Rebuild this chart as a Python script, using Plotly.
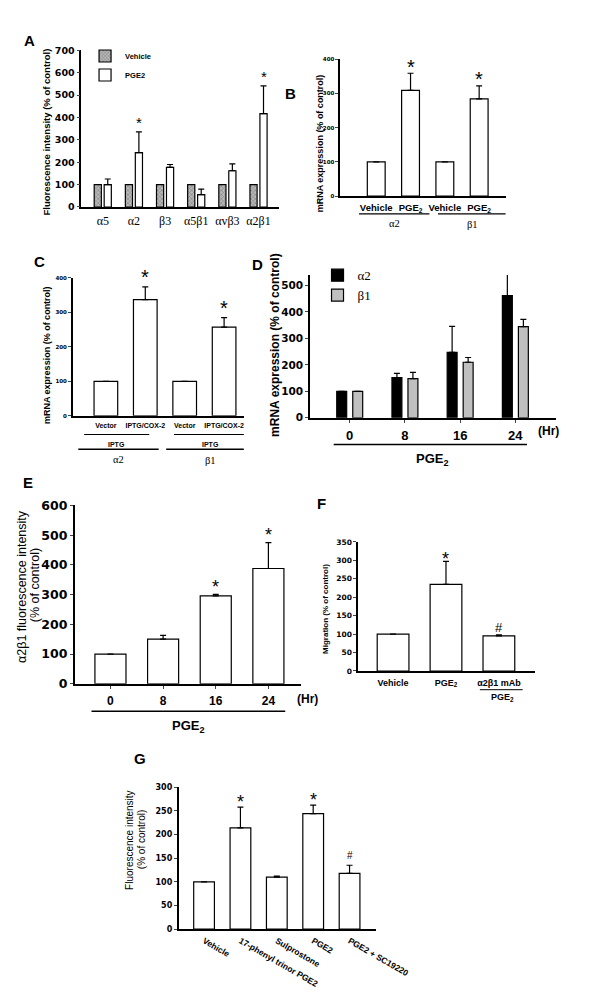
import plotly.graph_objects as go

W, H = 600, 1007

# ---------------- data ----------------
# Panel A
a_cats = ["α5", "α2", "β3", "α5β1", "αvβ3", "α2β1"]
a_vehicle = [100, 100, 100, 100, 100, 100]
a_pge2 = [100, 243, 177, 55, 162, 417]
a_pge2_err = [25, 93, 13, 25, 31, 124]
a_sig = ["", "*", "", "", "", "*"]

# Panel B
b_labels = ["Vehicle", "PGE<sub>2</sub>", "Vehicle", "PGE<sub>2</sub>"]
b_groups = ["α2", "β1"]
b_vals = [100, 309, 100, 284]
b_err = [0, 50, 0, 38]
b_sig = ["", "*", "", "*"]

# Panel C
c_labels = ["Vector", "IPTG/COX-2", "Vector", "IPTG/COX-2"]
c_groups = ["α2", "β1"]
c_vals = [100, 337, 100, 257]
c_err = [0, 37, 0, 28]
c_sig = ["", "*", "", "*"]

# Panel D
d_hours = ["0", "8", "16", "24"]
d_a2 = [100, 152, 247, 462]
d_a2_err = [0, 16, 99, 89]
d_b1 = [100, 148, 210, 345]
d_b1_err = [0, 24, 18, 27]

# Panel E
e_hours = ["0", "8", "16", "24"]
e_vals = [100, 150, 296, 388]
e_err = [0, 13, 5, 87]
e_sig = ["", "", "*", "*"]

# Panel F
f_labels = ["Vehicle", "PGE<sub>2</sub>", "α2β1 mAb"]
f_vals = [100, 235, 95]
f_err = [0, 62, 3]
f_sig = ["", "*", "#"]

# Panel G
g_labels = ["Vehicle", "17-phenyl trinor PGE2", "Sulprostone", "PGE2", "PGE2 + SC19220"]
g_vals = [100, 214, 110, 244, 118]
g_err = [0, 44, 2, 18, 17]
g_sig = ["", "*", "", "*", "#"]

# ---------------- layout helpers ----------------
SANS = "Liberation Sans"
NUM = "DejaVu Sans"
SERIF = "Liberation Serif"


def xd(px):
    return px / W


def yd(py):
    return 1 - py / H


panels = {
    "A": dict(n=1, xpx=(86, 295), ypx=(43, 202), yr=(0, 700), xr=(-0.69, 5.65), dtick=100, tf=9.5),
    "B": dict(n=2, xpx=(360, 535), ypx=(52, 191), yr=(0, 400), xr=(-1.05, 3.77), dtick=100, tf=5.5),
    "C": dict(n=3, xpx=(77, 258), ypx=(274, 414), yr=(0, 400), xr=(-0.84, 3.5), dtick=100, tf=5.5),
    "D": dict(n=4, xpx=(328, 588), ypx=(271, 416), yr=(0, 540), xr=(-0.72, 3.73), dtick=100, tf=10.5),
    "E": dict(n=5, xpx=(79, 318), ypx=(505, 686), yr=(0, 600), xr=(-0.68, 3.61), dtick=100, tf=12.5),
    "F": dict(n=6, xpx=(379, 566), ypx=(542, 673), yr=(0, 350), xr=(-0.66, 2.68), dtick=50, tf=7.5),
    "G": dict(n=7, xpx=(189, 398), ypx=(791, 935), yr=(0, 300), xr=(-0.7, 4.73), dtick=50, tf=8),
}


def ax(n, kind):
    return f"{kind}{'' if n == 1 else n}"


def axkey(n, kind):
    return f"{kind}axis{'' if n == 1 else n}"


fig = go.Figure()
layout = dict(
    width=W, height=H, margin=dict(l=0, r=0, t=0, b=0),
    paper_bgcolor="white", plot_bgcolor="white",
    barmode="overlay", showlegend=True,
)

xaxis_extra = {
    "A": dict(tickvals=list(range(6)), ticktext=a_cats, tickfont=dict(family=SERIF, size=12, color="black"), ticks=""),
    "B": dict(tickvals=list(range(4)), ticktext=b_labels, tickfont=dict(family=SANS, size=9.5, color="black", weight="bold"), ticks=""),
    "C": dict(tickvals=list(range(4)), ticktext=c_labels, tickfont=dict(family=SANS, size=7, color="black", weight="bold"), ticks=""),
    "D": dict(tickvals=list(range(4)), ticktext=d_hours, tickfont=dict(family=SANS, size=13, color="black", weight="bold"), ticks="outside", ticklen=3),
    "E": dict(tickvals=list(range(4)), ticktext=e_hours, tickfont=dict(family=SANS, size=12, color="black", weight="bold"), ticks="outside", ticklen=3),
    "F": dict(tickvals=list(range(3)), ticktext=f_labels, tickfont=dict(family=SANS, size=9, color="black", weight="bold"), ticks=""),
    "G": dict(tickvals=list(range(5)), ticktext=g_labels, tickfont=dict(family=SANS, size=8.5, color="black", weight="bold"), ticks="", tickangle=30),
}

for key, p in panels.items():
    n = p["n"]
    layout[axkey(n, "x")] = dict(
        domain=[xd(p["xpx"][0]), xd(p["xpx"][1])], range=list(p["xr"]),
        anchor=ax(n, "y"), showline=True, linecolor="black", linewidth=1.5,
        showgrid=False, zeroline=False, fixedrange=True, ticklabelstandoff=2,
        **xaxis_extra[key],
    )
    layout[axkey(n, "y")] = dict(
        domain=[yd(p["ypx"][1]), yd(p["ypx"][0])], range=list(p["yr"]),
        anchor=ax(n, "x"), showline=True, linecolor="black", linewidth=1.5,
        showgrid=False, zeroline=False, ticks="outside", ticklen=3, tickwidth=1.2,
        dtick=p["dtick"], tick0=0, fixedrange=True,
        tickfont=dict(family=NUM, size=p["tf"], color="black", weight="bold"),
    )


def err(vals):
    return dict(type="data", array=vals, arrayminus=[0] * len(vals), symmetric=False,
                color="black", thickness=1.2, width=3, visible=True)


LINE = dict(color="black", width=1.2)

# Panel A
fig.add_bar(x=[i - 0.16 for i in range(len(a_cats))], y=a_vehicle, width=0.23, xaxis="x", yaxis="y",
            name="Vehicle", legend="legend",
            marker=dict(color="#b0b0b0", line=LINE,
                        pattern=dict(shape="x", fgcolor="#555555", bgcolor="#b8b8b8", size=3, solidity=0.4)))
fig.add_bar(x=[i + 0.16 for i in range(len(a_cats))], y=a_pge2, width=0.23, xaxis="x", yaxis="y",
            name="PGE2", legend="legend", error_y=err(a_pge2_err),
            marker=dict(color="white", line=LINE))

# Panel B
fig.add_bar(x=list(range(4)), y=b_vals, width=0.52, xaxis="x2", yaxis="y2", showlegend=False,
            error_y=err(b_err), marker=dict(color="white", line=LINE))
# Panel C
fig.add_bar(x=list(range(4)), y=c_vals, width=0.6, xaxis="x3", yaxis="y3", showlegend=False,
            error_y=err(c_err), marker=dict(color="white", line=LINE))
# Panel D
fig.add_bar(x=[i - 0.145 for i in range(4)], y=d_a2, width=0.18, xaxis="x4", yaxis="y4",
            name="α2", legend="legend2", error_y=err(d_a2_err),
            marker=dict(color="black", line=LINE))
fig.add_bar(x=[i + 0.145 for i in range(4)], y=d_b1, width=0.18, xaxis="x4", yaxis="y4",
            name="β1", legend="legend2", error_y=err(d_b1_err),
            marker=dict(color="#c0c0c0", line=LINE))
# Panel E
fig.add_bar(x=list(range(4)), y=e_vals, width=0.59, xaxis="x5", yaxis="y5", showlegend=False,
            error_y=err(e_err), marker=dict(color="white", line=LINE))
# Panel F
fig.add_bar(x=list(range(3)), y=f_vals, width=0.6, xaxis="x6", yaxis="y6", showlegend=False,
            error_y=err(f_err), marker=dict(color="white", line=LINE))
# Panel G
fig.add_bar(x=list(range(5)), y=g_vals, width=0.57, xaxis="x7", yaxis="y7", showlegend=False,
            error_y=err(g_err), marker=dict(color="white", line=LINE))

layout["legend"] = dict(x=xd(90), y=yd(34), xanchor="left", yanchor="top", bgcolor="rgba(0,0,0,0)",
                        font=dict(family=SANS, size=7.5, color="black", weight="bold"),
                        tracegroupgap=0, itemwidth=30)
layout["legend2"] = dict(x=xd(336), y=yd(256), xanchor="left", yanchor="top", bgcolor="rgba(0,0,0,0)",
                         font=dict(family=SERIF, size=13, color="black"),
                         tracegroupgap=0, itemwidth=30)

annotations = []
shapes = []


def star_annots(n, xs, vals, errs, sigs, size, gap, sharp_size=None):
    for x, v, e, s in zip(xs, vals, errs, sigs):
        if not s:
            continue
        fs = size if s == "*" else (sharp_size or size)
        shift = gap - (0.27 * fs if s == "*" else 0)
        annotations.append(dict(x=x, y=v + e, xref=ax(n, "x"), yref=ax(n, "y"), text=s, showarrow=False,
                                yanchor="middle", yshift=shift,
                                font=dict(family=SANS, size=fs, color="black")))


star_annots(1, [i + 0.16 for i in range(6)], a_pge2, a_pge2_err, a_sig, 15, 13)
star_annots(2, list(range(4)), b_vals, b_err, b_sig, 20, 12)
star_annots(3, list(range(4)), c_vals, c_err, c_sig, 20, 15)
star_annots(5, list(range(4)), e_vals, e_err, e_sig, 18, 12)
star_annots(6, list(range(3)), f_vals, f_err, f_sig, 18, 7, sharp_size=13)
star_annots(7, list(range(5)), g_vals, g_err, g_sig, 18, 10, sharp_size=10)


def hline(n, x0, x1, py, w=1.3):
    shapes.append(dict(type="line", xref=ax(n, "x"), yref="paper", x0=x0, x1=x1, y0=yd(py), y1=yd(py),
                       line=dict(color="black", width=w)))


def text(xref, x, py, t, size, family=SANS, bold=True, angle=0, xanchor="center"):
    f = dict(family=family, size=size, color="black")
    if bold:
        f["weight"] = "bold"
    annotations.append(dict(x=x, y=yd(py), xref=xref, yref="paper", text=t, showarrow=False,
                            textangle=angle, xanchor=xanchor, yanchor="middle", font=f))


# Panel B brackets
hline(2, -0.5, 1.55, 209)
hline(2, 1.8, 3.85, 209)
text("x2", 0.52, 219, b_groups[0], 10.5, SERIF, False)
text("x2", 2.82, 220, b_groups[1], 10.5, SERIF, False)
# Panel C brackets
hline(3, -0.55, 1.1, 433, 1.1)
hline(3, 1.73, 3.6, 433, 1.1)
text("x3", 0.27, 443, "IPTG", 7)
text("x3", 2.66, 443, "IPTG", 7)
hline(3, -0.7, 1.34, 448, 1.5)
hline(3, 1.53, 3.76, 448, 1.5)
text("x3", 0.32, 458, c_groups[0], 10.5, SERIF, False)
text("x3", 2.65, 459, c_groups[1], 10.5, SERIF, False)
# Panel D
text("x4", 3.38, 429, "(Hr)", 12, xanchor="left")
hline(4, -0.29, 3.21, 443, 1.5)
text("x4", 1.5, 458, "PGE<sub>2</sub>", 13)
# Panel E
text("x5", 3.5, 701, "(Hr)", 12, xanchor="left")
hline(5, -0.36, 3.32, 714, 1.5)
text("x5", 1.49, 729, "PGE<sub>2</sub>", 13)
# Panel F
hline(6, 1.64, 2.45, 692, 1.0)
text("x6", 2.07, 700, "PGE<sub>2</sub>", 9)

# Axis titles
text("paper", xd(49), 126, "Fluorescence intensity (% of control)", 9.5, angle=-90)
text("paper", xd(339), 137, "mRNA expression (% of control)", 9, angle=-90)
text("paper", xd(49), 352, "mRNA expression (% of control)", 9, angle=-90)
text("paper", xd(291), 342, "mRNA expression (% of control)", 12, angle=-90)
text("paper", xd(24), 587, "α2β1 fluorescence intensity", 12.5, bold=False, angle=-90)
text("paper", xd(37), 586, "(% of control)", 12.5, bold=False, angle=-90)
text("paper", xd(345), 610, "Migration (% of control)", 8, angle=-90)
text("paper", xd(137), 844, "Fluorescence intensity", 10, bold=False, angle=-90)
text("paper", xd(150), 844, "(% of control)", 10, bold=False, angle=-90)

# Panel letters
for lab, (px, py) in {"A": (31, 33), "B": (307, 87), "C": (42, 257), "D": (273, 260),
                      "E": (30, 482), "F": (340, 503), "G": (148, 762)}.items():
    text("paper", xd(px), py, lab, 15)

layout["annotations"] = annotations
layout["shapes"] = shapes
fig.update_layout(**layout)
fig.write_html(
    "out.html",
    config=dict(displayModeBar=False),
    post_script="document.body.style.margin='0';document.body.style.overflow='hidden';",
)
